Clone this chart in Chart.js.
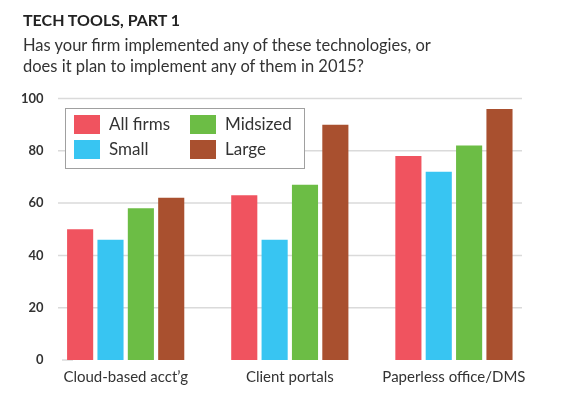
<!DOCTYPE html>
<html lang="en">
<head>
    <meta charset="UTF-8">
    <meta name="viewport" content="width=device-width, initial-scale=1.0">
    <script src="https://cdn.jsdelivr.net/npm/chart.js"></script>
    <title>Tech Tools, Part 1</title>
    <style>
        body { margin: 0; background: #fff; }
        #wrap { position: relative; width: 563px; height: 395px; font-family: Lato, sans-serif; }
        #title { position: absolute; left: 23px; top: 10px; font-size: 16px; line-height: 20px; font-weight: bold; color: #222; }
        #subtitle { position: absolute; left: 23px; top: 35px; font-size: 16.5px; line-height: 21px; color: #333; }
        canvas { position: absolute; left: 0; top: 0; }
    </style>
</head>
<body>
    <div id="wrap">
        <canvas id="chart" width="563" height="395"></canvas>
        <div id="title">TECH TOOLS, PART 1</div>
        <div id="subtitle">Has your firm implemented any of these technologies, or<br>does it plan to implement any of them in 2015?</div>
    </div>
    <script>
        const categories = ['Cloud-based acct\u2019g', 'Client portals', 'Paperless office/DMS'];
        const seriesNames = ['All firms', 'Small', 'Midsized', 'Large'];
        const allFirms = [50, 63, 78];
        const small = [46, 46, 72];
        const midsized = [58, 67, 82];
        const large = [62, 90, 96];
        const yTicks = [0, 20, 40, 60, 80, 100];

        const colors = ['#f0535f', '#38c5f2', '#6cbd45', '#a9502f'];

        // light gridlines, shorter than the plot area, drawn behind the bars
        const gridPlugin = {
            id: 'shortGrid',
            beforeDatasetsDraw(chart) {
                const ctx = chart.ctx;
                const y = chart.scales.y;
                ctx.save();
                ctx.strokeStyle = '#dadada';
                ctx.lineWidth = 1.5;
                yTicks.forEach(v => {
                    const py = y.getPixelForValue(v);
                    ctx.beginPath();
                    if (v === 0) {
                        ctx.moveTo(62, py);
                        ctx.lineTo(73, py);
                    } else {
                        ctx.moveTo(58, py);
                        ctx.lineTo(522, py);
                    }
                    ctx.stroke();
                });
                ctx.restore();
            }
        };

        // boxed legend inside the plot, two columns
        const legendPlugin = {
            id: 'boxLegend',
            afterDraw(chart) {
                const ctx = chart.ctx;
                ctx.save();
                ctx.fillStyle = '#fff';
                ctx.fillRect(65, 108, 239, 60);
                ctx.strokeStyle = '#a0a0a0';
                ctx.lineWidth = 1;
                ctx.strokeRect(65.5, 108.5, 239, 60);
                ctx.font = '17px Lato, sans-serif';
                ctx.textBaseline = 'middle';
                chart.data.datasets.forEach((ds, i) => {
                    const col = Math.floor(i / 2);
                    const row = i % 2;
                    const sx = col === 0 ? 74 : 190;
                    const sy = row === 0 ? 115 : 140;
                    ctx.fillStyle = ds.backgroundColor;
                    ctx.fillRect(sx, sy, 26, 19);
                    ctx.fillStyle = '#333';
                    ctx.fillText(ds.label, sx + 35, sy + 10);
                });
                ctx.restore();
            }
        };

        const seriesData = [allFirms, small, midsized, large];

        new Chart(document.getElementById('chart'), {
            type: 'bar',
            data: {
                labels: categories,
                datasets: seriesNames.map((name, i) => ({
                    label: name,
                    data: seriesData[i],
                    backgroundColor: colors[i],
                    categoryPercentage: 0.74,
                    barPercentage: 0.86
                }))
            },
            options: {
                responsive: false,
                animation: false,
                layout: { padding: { left: 21, right: 27, top: 98.5, bottom: 1 } },
                plugins: {
                    legend: { display: false },
                    tooltip: { enabled: false }
                },
                scales: {
                    x: {
                        grid: { display: false, drawTicks: false },
                        border: { display: false },
                        ticks: {
                            padding: 8,
                            color: '#333',
                            font: { family: 'Lato', size: 15 }
                        }
                    },
                    y: {
                        min: 0,
                        max: 100,
                        grid: { display: false, drawTicks: false },
                        border: { display: false },
                        afterBuildTicks(scale) {
                            scale.ticks = yTicks.map(v => ({ value: v }));
                        },
                        ticks: {
                            padding: 0,
                            color: '#333',
                            font: { family: 'Lato', size: 13, weight: 'bold' }
                        }
                    }
                }
            },
            plugins: [gridPlugin, legendPlugin]
        });
    </script>
</body>
</html>
